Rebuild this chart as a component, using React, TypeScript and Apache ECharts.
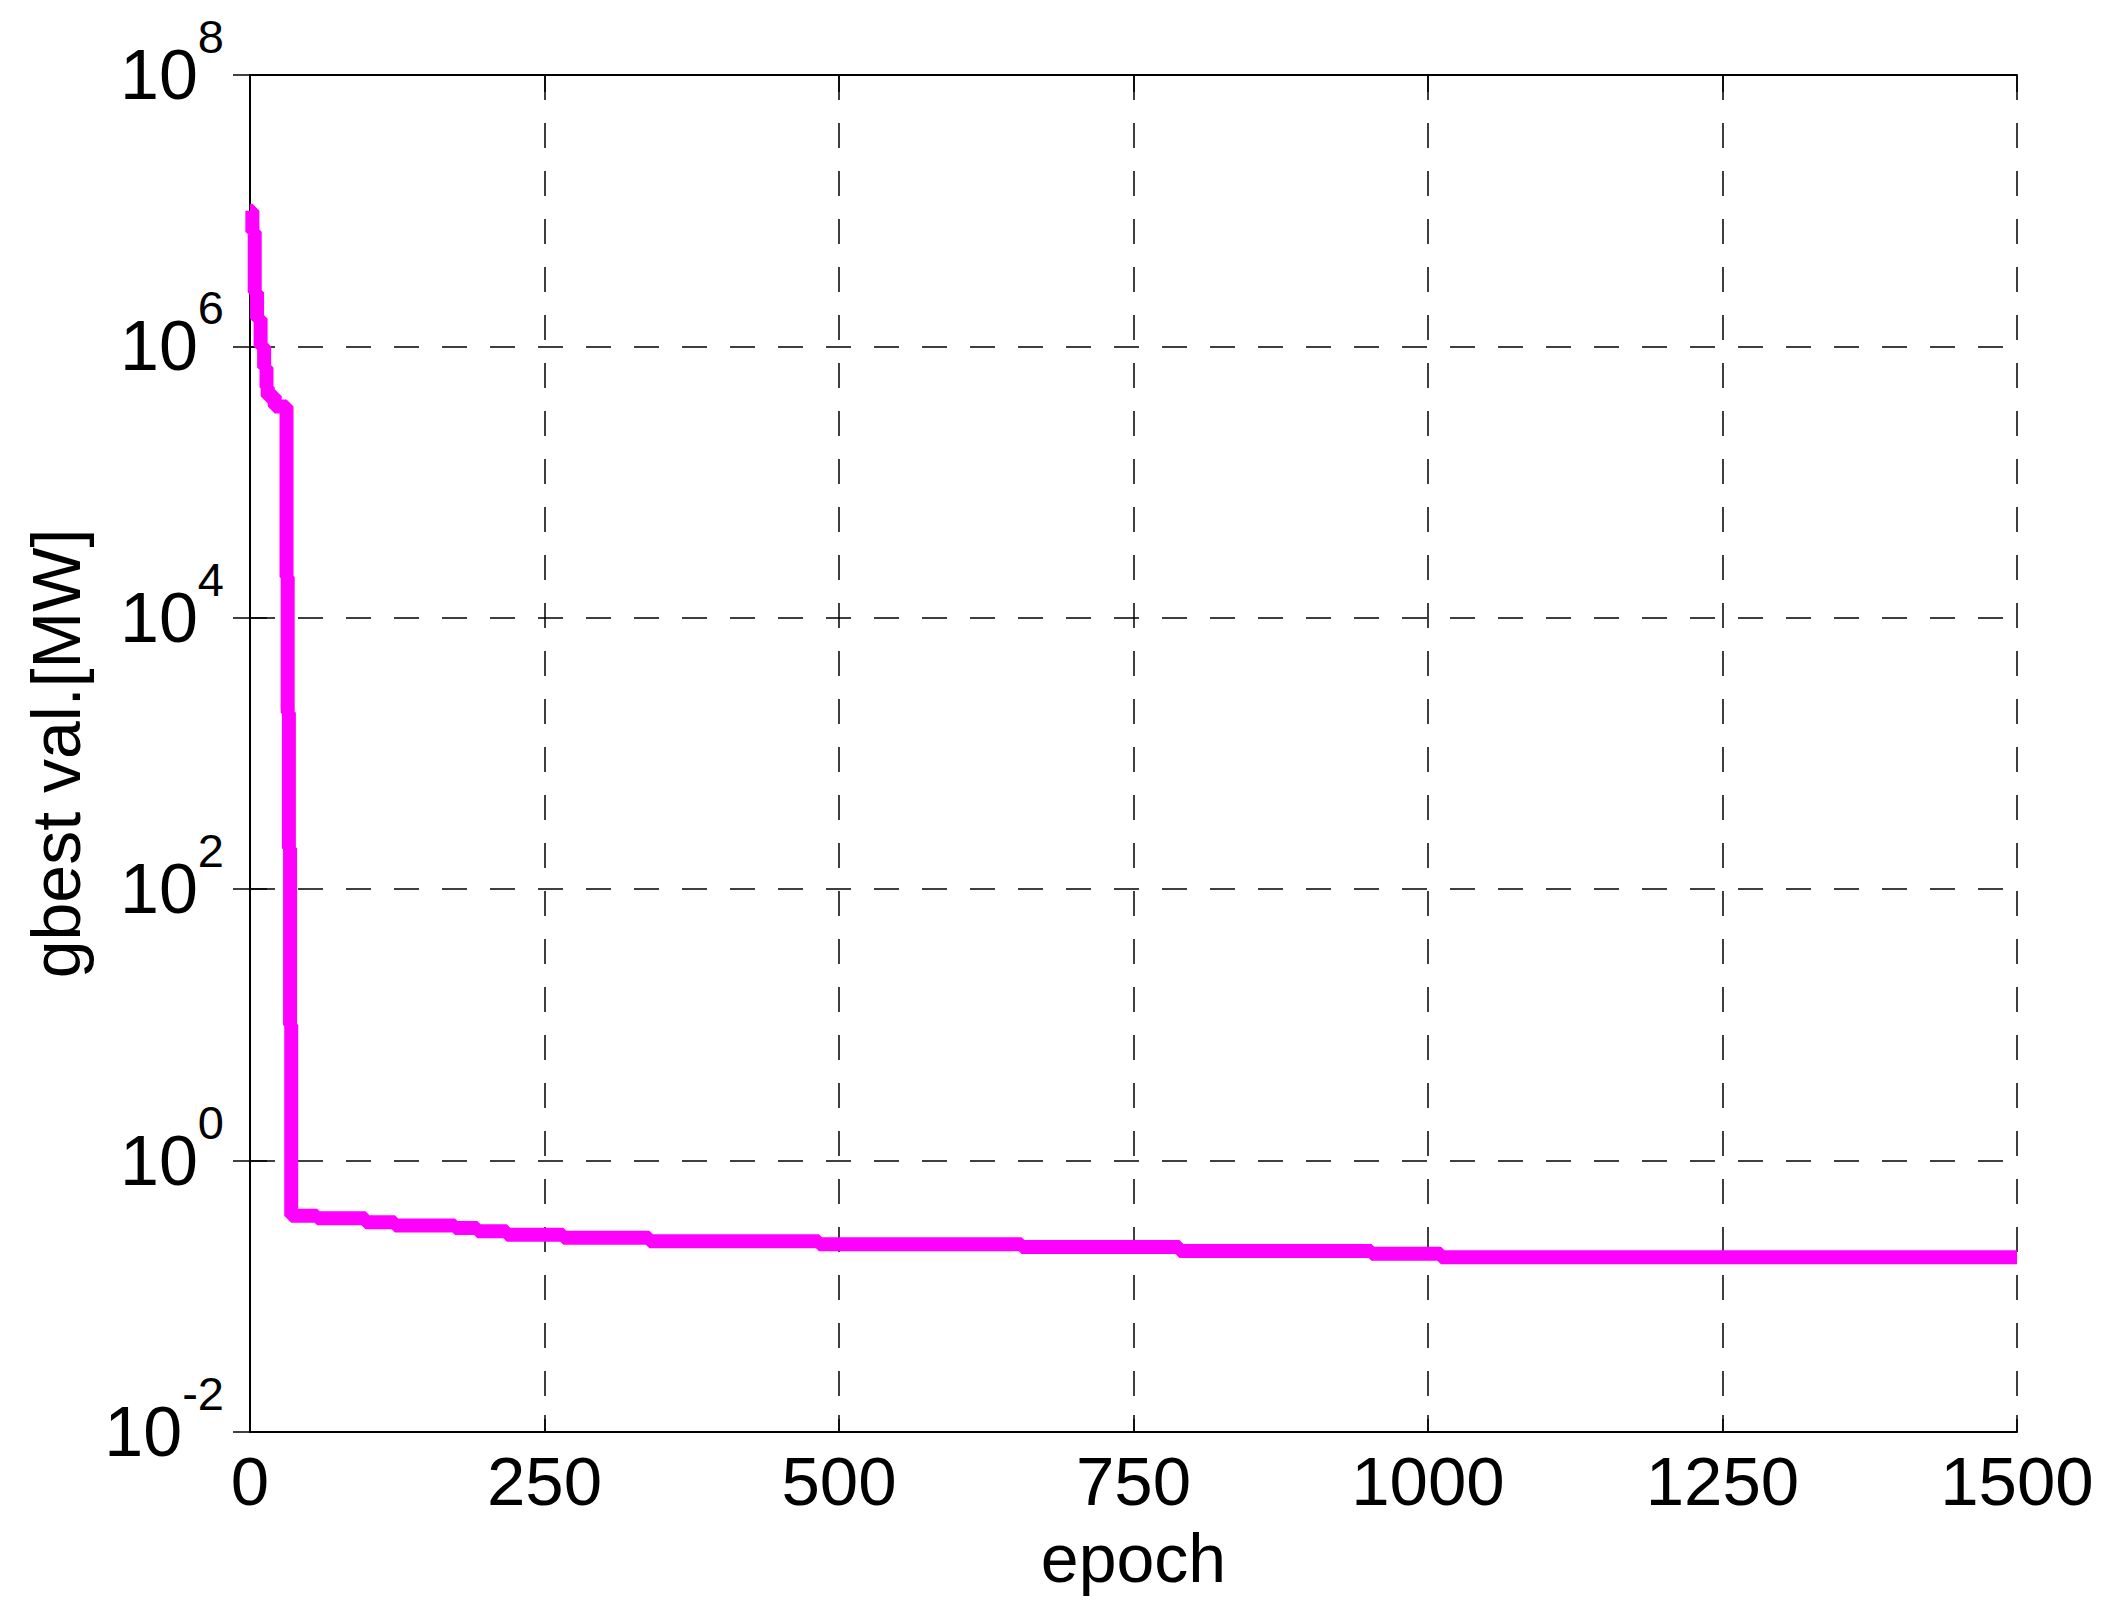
import React, { useEffect, useRef } from 'react';
import * as echarts from 'echarts';

// Best value found so far (gbest) per epoch (step function)
const epochs = [0, 2, 4, 6, 9, 12, 14, 15, 21, 31, 32, 33, 34, 35, 57, 98, 123, 174, 193, 218, 266, 339, 483, 655, 789, 952, 1011, 1500];
const gbest = [1.0e7, 7e6, 2.5e6, 1.6e6, 1.0e6, 7e5, 5e5, 4.3e5, 3.6e5, 2e4, 2e3, 2e2, 10, 0.393, 0.376, 0.352, 0.333, 0.318, 0.301, 0.284, 0.27, 0.254, 0.242, 0.231, 0.216, 0.206, 0.194, 0.194];

const xMin = 0;
const xMax = 1500;
const xStep = 250;
const yMin = 0.01;
const yMax = 1e8;
const yLogStep = 2;

const xName = 'epoch';
const yName = 'gbest val.[MW]';

export default function App() {
  const ref = useRef<HTMLDivElement>(null);
  useEffect(() => {
    document.body.style.margin = '0';
    const chart = echarts.init(ref.current!, null, { renderer: 'svg' });
    const font = "'Liberation Sans', Arial, Helvetica, sans-serif";
    const axisLine = { show: true, lineStyle: { color: '#000', width: 2 } };
    const tick = { show: true, inside: true, length: 17, lineStyle: { color: '#000', width: 1.5 } };
    const split = { show: true, lineStyle: { color: '#000', width: 1.5, type: [25, 23] as any } };
    const option: any = {
      animation: false,
      backgroundColor: '#fff',
      grid: { left: 250, right: 92, top: 75, bottom: 183, containLabel: false, outerBoundsMode: 'none' },
      xAxis: [
        {
          type: 'value',
          position: 'bottom',
          min: xMin,
          max: xMax,
          interval: xStep,
          axisLine,
          axisTick: tick,
          splitLine: split,
          axisLabel: {
            show: true,
            margin: 15,
            color: '#000',
            fontFamily: font,
            fontSize: 69,
            lineHeight: 69,
            formatter: (v: number) => String(v),
          },
          name: xName,
          nameLocation: 'middle',
          nameGap: 92,
          nameTextStyle: { color: '#000', fontFamily: font, fontSize: 68, lineHeight: 68 },
        },
        {
          type: 'value',
          position: 'top',
          min: xMin,
          max: xMax,
          interval: xStep,
          axisLine,
          axisTick: tick,
          splitLine: { show: false },
          axisLabel: { show: false },
        },
      ],
      yAxis: [
        {
          type: 'log',
          logBase: 10,
          position: 'left',
          min: yMin,
          max: yMax,
          interval: yLogStep,
          axisLine,
          axisTick: tick,
          minorTick: { show: false },
          splitLine: split,
          axisLabel: {
            show: true,
            margin: 26,
            color: '#000',
            fontFamily: font,
            formatter: (v: number) => `{b|10}{s|${Math.round(Math.log10(v))}}`,
            rich: {
              b: { fontFamily: font, fontSize: 70, lineHeight: 124, color: '#000', verticalAlign: 'middle' },
              s: {
                fontFamily: font,
                fontSize: 47,
                lineHeight: 47,
                color: '#000',
                verticalAlign: 'top',
              },
            },
          },
          name: yName,
          nameLocation: 'middle',
          nameGap: 160,
          nameTextStyle: { color: '#000', fontFamily: font, fontSize: 68, lineHeight: 68 },
        },
        {
          type: 'log',
          logBase: 10,
          position: 'right',
          min: yMin,
          max: yMax,
          interval: yLogStep,
          axisLine,
          axisTick: tick,
          splitLine: { show: false },
          axisLabel: { show: false },
        },
      ],
      series: [
        {
          type: 'line',
          xAxisIndex: 0,
          yAxisIndex: 0,
          step: 'end',
          symbol: 'none',
          showSymbol: false,
          data: epochs.map((e, i) => [e, gbest[i]]),
          lineStyle: { color: '#ff00ff', width: 14 },
          itemStyle: { color: '#ff00ff' },
          z: 3,
        },
      ],
    };
    chart.setOption(option);
    return () => chart.dispose();
  }, []);
  return <div ref={ref} style={{ width: 2109, height: 1615 }} />;
}
